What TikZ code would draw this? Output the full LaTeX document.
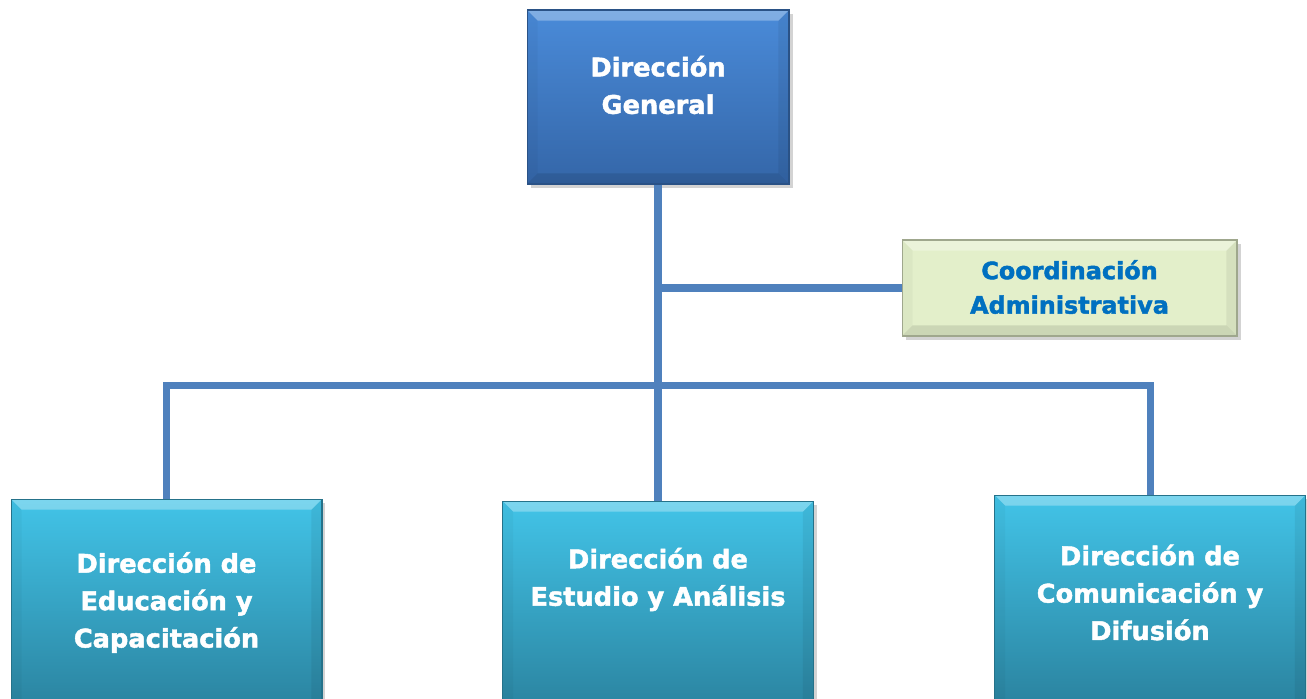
\documentclass[tikz,border=0pt]{standalone}
\usepackage{fontspec}
\setmainfont{DejaVu Sans}
\newfontfamily\boxfont{DejaVu Sans Bold}[FakeBold=1.8]
\usetikzlibrary{shadows}

\definecolor{dgtop}{HTML}{4A8BD9}
\definecolor{dgbot}{HTML}{3466A8}
\definecolor{dirtop}{HTML}{42C4E8}
\definecolor{dirbot}{HTML}{2E8EAD}
\definecolor{coordfill}{HTML}{E3EFCA}
\definecolor{coordtext}{HTML}{0070C0}
\definecolor{linkblue}{HTML}{4F81BD}

\tikzset{
	box/.style={rectangle, inner sep=0pt, line width=0.6pt,
		drop shadow={shadow xshift=2pt, shadow yshift=-2pt, opacity=0.35},
		path picture={
			\fill [white, opacity=0.3] (path picture bounding box.north west) -- (path picture bounding box.north east)
				-- ([xshift=-6pt, yshift=-6pt]path picture bounding box.north east) -- ([xshift=6pt, yshift=-6pt]path picture bounding box.north west) -- cycle;
			\fill [black, opacity=0.1] (path picture bounding box.south west) -- (path picture bounding box.south east)
				-- ([xshift=-6pt, yshift=6pt]path picture bounding box.south east) -- ([xshift=6pt, yshift=6pt]path picture bounding box.south west) -- cycle;
			\fill [black, opacity=0.03] (path picture bounding box.north west) -- ([xshift=6pt, yshift=-6pt]path picture bounding box.north west)
				-- ([xshift=6pt, yshift=6pt]path picture bounding box.south west) -- (path picture bounding box.south west) -- cycle;
			\fill [black, opacity=0.06] (path picture bounding box.north east) -- ([xshift=-6pt, yshift=-6pt]path picture bounding box.north east)
				-- ([xshift=-6pt, yshift=6pt]path picture bounding box.south east) -- (path picture bounding box.south east) -- cycle;
		}},
	dgbox/.style={box, draw=dgbot!80!black, top color=dgtop, bottom color=dgbot,
		minimum width=5.24cm, minimum height=3.48cm},
	dirbox/.style={box, draw=dirbot!80!black, top color=dirtop, bottom color=dirbot!90!black,
		minimum width=6.22cm, minimum height=4.4cm},
	coordbox/.style={box, draw=coordfill!70!black, fill=coordfill,
		minimum width=6.7cm, minimum height=1.92cm},
	boxtext/.style={align=center, text=white, inner sep=0pt,
		font=\boxfont\fontsize{14.6}{21.3}\selectfont},
	coordtxt/.style={boxtext, text=coordtext, font=\boxfont\fontsize{13.6}{19.6}\selectfont},
	link/.style={draw=linkblue, line width=4pt, line join=miter}
}

\begin{document}
\begin{tikzpicture}[x=0.02cm, y=-0.02cm]
	\useasboundingbox (0,0) rectangle (1307,698);
	% boxes
	\node [dgbox] (dg) at (658,97) {};
	\node [coordbox] (coord) at (1069.5,288) {};
	\node [dirbox] (edu) at (166.5,609) {};
	\node [dirbox] (est) at (658,611) {};
	\node [dirbox] (com) at (1150,605) {};
	% texts
	\node [boxtext] (dg-t) at (dg.center) [yshift=0.24cm] {Dirección\\General};
	\node [coordtxt] (coord-t) at (coord.center) [yshift=0.02cm] {Coordinación\\Administrativa};
	\node [boxtext] (edu-t) at (edu.north) [yshift=-2.08cm] {Dirección de\\Educación y\\Capacitación};
	\node [boxtext] (est-t) at (est.north) [yshift=-1.58cm] {Dirección de\\Estudio y Análisis};
	\node [boxtext] (com-t) at (com.north) [yshift=-1.96cm] {Dirección de\\Comunicación y\\Difusión};
	% connectors
	\coordinate (bus) at (658,385);
	\draw [link] (dg.south) -- (est.north);
	\draw [link] (dg.south |- coord.west) -- (coord.west);
	\draw [link] (edu.north) |- (bus) -| (com.north);
\end{tikzpicture}
\end{document}
